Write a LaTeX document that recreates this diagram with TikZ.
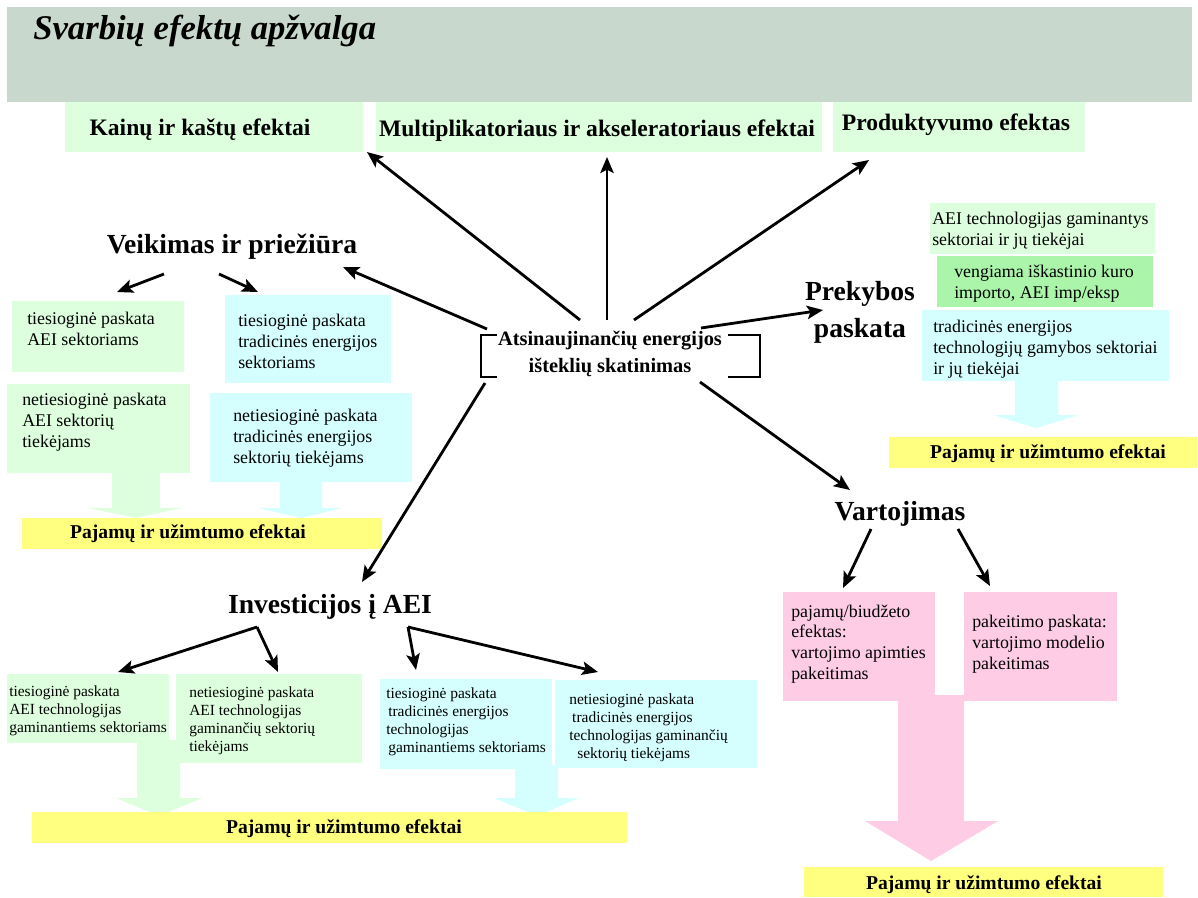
\documentclass[tikz,border=0pt]{standalone}
\usepackage{fontspec}
\setmainfont{Liberation Serif}
\usetikzlibrary{arrows.meta,calc}
\definecolor{bandc}{RGB}{200,216,204}
\definecolor{lgreen}{RGB}{221,255,221}
\definecolor{lcyan}{RGB}{213,255,255}
\definecolor{mgreen}{RGB}{170,245,170}
\definecolor{lpink}{RGB}{255,204,230}
\definecolor{lyellow}{RGB}{255,255,128}
\newcommand\bx[6]{\node[boxn,fill=#2,minimum width={(#5-#3)*0.75pt},minimum height={(#6-#4)*0.75pt}] (#1) at (#3,#4) {};}
\tikzset{
  boxn/.style={inner sep=0pt,outer sep=0pt,anchor=north west,draw=none},
  smalltxt/.style={font=\fontsize{13.4pt}{15.4pt}\selectfont,align=left,anchor=base west,inner sep=0pt},
  tinytxt/.style={font=\fontsize{11.6pt}{13.5pt}\selectfont,align=left,anchor=base west,inner sep=0pt},
  toptxt/.style={font=\bfseries\fontsize{17.7pt}{20pt}\selectfont,anchor=base,inner sep=0pt},
  headtxt/.style={font=\bfseries\fontsize{20.7pt}{27.75pt}\selectfont,align=center,anchor=base,inner sep=0pt},
  bartxt/.style={font=\bfseries\fontsize{14.7pt}{17pt}\selectfont,anchor=base,inner sep=0pt},
  arr/.style={line width=2.1pt,-{Stealth[length=12pt,width=10pt,inset=2.5pt]}},
  brk/.style={line width=1.1pt},
}
\begin{document}
\begin{tikzpicture}[x=0.75pt,y=-0.75pt]
\useasboundingbox (0,0) rectangle (1198,897);
% header
\bx{band}{bandc}{7}{7}{1192}{102}
\node[font=\bfseries\itshape\fontsize{26pt}{30pt}\selectfont,anchor=base west,inner sep=0pt] (title) at (33,39) {Svarbių efektų apžvalga};
% top boxes
\bx{kbox}{lgreen}{65}{102}{363}{152}
\bx{mbox}{lgreen}{376}{102}{822}{152}
\bx{pbox}{lgreen}{833}{102}{1085}{152}
\node[toptxt] (ktxt) at (200,135) {Kainų ir kaštų efektai};
\node[toptxt] (mtxt) at (597,136) {Multiplikatoriaus ir akseleratoriaus efektai};
\node[toptxt] (ptxt) at (956,130) {Produktyvumo efektas};
% centre
\node[font=\bfseries\fontsize{15.3pt}{20.25pt}\selectfont,align=center,anchor=base,inner sep=0pt] (ctr) at (610,372) {Atsinaujinančių energijos\\išteklių skatinimas\hspace{15pt}};
\draw[brk] (497,335) -- (481,335) -- (481,377) -- (497,377);
\draw[brk] (728,335) -- (760,335) -- (760,377) -- (728,377);
% headings
\node[headtxt] (veik) at (232,253) {Veikimas ir priežiūra};
\node[headtxt] (prek) at (860,337) {Prekybos\\paskata};
\node[headtxt] (inv) at (330,613) {Investicijos į AEI};
\node[headtxt] (vart) at (900,520) {Vartojimas};
% left block arrows
\fill[lgreen] (112,470) -- (160,470) -- (160,508) -- (182,508) -- (136,518) -- (88,508) -- (112,508) -- cycle;
\fill[lcyan] (280,480) -- (322,480) -- (322,508) -- (342,508) -- (301,518) -- (258,508) -- (280,508) -- cycle;
% left boxes
\bx{g1}{lgreen}{12}{301}{184}{372}
\bx{c1}{lcyan}{225}{295}{391}{383}
\bx{g2}{lgreen}{7}{384}{190}{473}
\bx{c2}{lcyan}{210}{393}{412}{482}
\node[smalltxt] (g1t) at (27,345) {tiesioginė paskata\\AEI sektoriams};
\node[smalltxt] (c1t) at (238,368) {tiesioginė paskata\\tradicinės energijos\\sektoriams};
\node[smalltxt] (g2t) at (22,447) {netiesioginė paskata\\AEI sektorių\\tiekėjams};
\node[smalltxt] (c2t) at (233,463) {netiesioginė paskata\\tradicinės energijos\\sektorių tiekėjams};
\bx{y1}{lyellow}{22}{518}{382}{549}
\node[bartxt] (y1t) at (188,538) {Pajamų ir užimtumo efektai};
% right boxes
\fill[lcyan] (1015,378) -- (1058,378) -- (1058,415) -- (1079,415) -- (1036,428) -- (993,415) -- (1015,415) -- cycle;
\bx{r1}{lgreen}{930}{203}{1155}{254}
\bx{r2}{mgreen}{937}{256}{1153}{307}
\bx{r3}{lcyan}{922}{310}{1169}{381}
\node[smalltxt] (r1t) at (932,245) {AEI technologijas gaminantys\\sektoriai ir jų tiekėjai};
\node[smalltxt] (r2t) at (954,298) {vengiama iškastinio kuro\\importo, AEI imp/eksp};
\node[smalltxt] (r3t) at (933,374) {tradicinės energijos\\technologijų gamybos sektoriai\\ir jų tiekėjai};
\bx{y2}{lyellow}{889}{437}{1197}{468}
\node[bartxt] (y2t) at (1048,458) {Pajamų ir užimtumo efektai};
% consumption
\fill[lpink] (898,695) -- (964,695) -- (964,821) -- (998,821) -- (931,861) -- (865,821) -- (898,821) -- cycle;
\bx{pk1}{lpink}{783}{592}{935}{701}
\bx{pk2}{lpink}{964}{592}{1117}{701}
\node[smalltxt] (pk1t) at (791,679) {pajamų/biudžeto\\efektas:\\vartojimo apimties\\pakeitimas};
\node[smalltxt] (pk2t) at (972,669) {pakeitimo paskata:\\vartojimo modelio\\pakeitimas};
\bx{y3}{lyellow}{804}{867}{1163}{897}
\node[bartxt] (y3t) at (984,889) {Pajamų ir užimtumo efektai};
% investment
\fill[lgreen] (137,740) -- (180,740) -- (180,798) -- (202,798) -- (159,816) -- (116,798) -- (137,798) -- cycle;
\fill[lcyan] (515,765) -- (558,765) -- (558,798) -- (579,798) -- (537,816) -- (494,798) -- (515,798) -- cycle;
\bx{b1}{lgreen}{7}{674}{169}{743}
\bx{b2}{lgreen}{176}{674}{362}{763}
\bx{b3}{lcyan}{380}{679}{552}{769}
\bx{b4}{lcyan}{555}{680}{757}{768}
\node[tinytxt] (b1t) at (9,732) {tiesioginė paskata\\AEI technologijas\\gaminantiems sektoriams};
\node[tinytxt] (b2t) at (189,751) {netiesioginė paskata\\AEI technologijas\\gaminančių sektorių\\tiekėjams};
\node[tinytxt] (b3t) at (386,752) {tiesioginė paskata\\\hspace{1.5pt}tradicinės energijos\\technologijas\\\hspace{1.5pt}gaminantiems sektoriams};
\node[tinytxt] (b4t) at (569,758) {netiesioginė paskata\\\hspace{2.2pt}tradicinės energijos\\technologijas gaminančių\\\hspace{6pt}sektorių tiekėjams};
\bx{y4}{lyellow}{32}{812}{627}{843}
\node[bartxt] (y4t) at (344,833) {Pajamų ir užimtumo efektai};
% arrows from centre
\coordinate (sK) at (580,320); \coordinate (eK) at (367,152);
\coordinate (sM) at (607,320); \coordinate (eM) at (607,157);
\coordinate (sP) at (634,320); \coordinate (eP) at (869,160);
\coordinate (sV) at (487,329); \coordinate (eV) at (343,267);
\coordinate (sT) at (701,328); \coordinate (eT) at (823,310);
\coordinate (sI) at (485,383); \coordinate (eI) at (362,582);
\coordinate (sC) at (700,382); \coordinate (eC) at (850,490);
\draw[arr] (sK) -- (eK);
\draw[arr] (sM) -- (eM);
\draw[arr] (sP) -- (eP);
\draw[arr] (sV) -- (eV);
\draw[arr] (sT) -- (eT);
\draw[arr] (sI) -- (eI);
\draw[arr] (sC) -- (eC);
% sub arrows
\coordinate (v1s) at (164,274); \coordinate (v1e) at (117,292);
\coordinate (v2s) at (219,274); \coordinate (v2e) at (258,292);
\draw[arr] (v1s) -- (v1e);
\draw[arr] (v2s) -- (v2e);
\coordinate (iA) at (257,627); \coordinate (iB) at (408,627);
\coordinate (i1e) at (118,672); \coordinate (i2e) at (278,672);
\coordinate (i3e) at (416,670); \coordinate (i4e) at (598,672);
\draw[arr] (iA) -- (i1e);
\draw[arr] (iA) -- (i2e);
\draw[arr] (iB) -- (i3e);
\draw[arr] (iB) -- (i4e);
\coordinate (w1s) at (871,529); \coordinate (w1e) at (843,588);
\coordinate (w2s) at (958,529); \coordinate (w2e) at (990,586);
\draw[arr] (w1s) -- (w1e);
\draw[arr] (w2s) -- (w2e);
\end{tikzpicture}
\end{document}
